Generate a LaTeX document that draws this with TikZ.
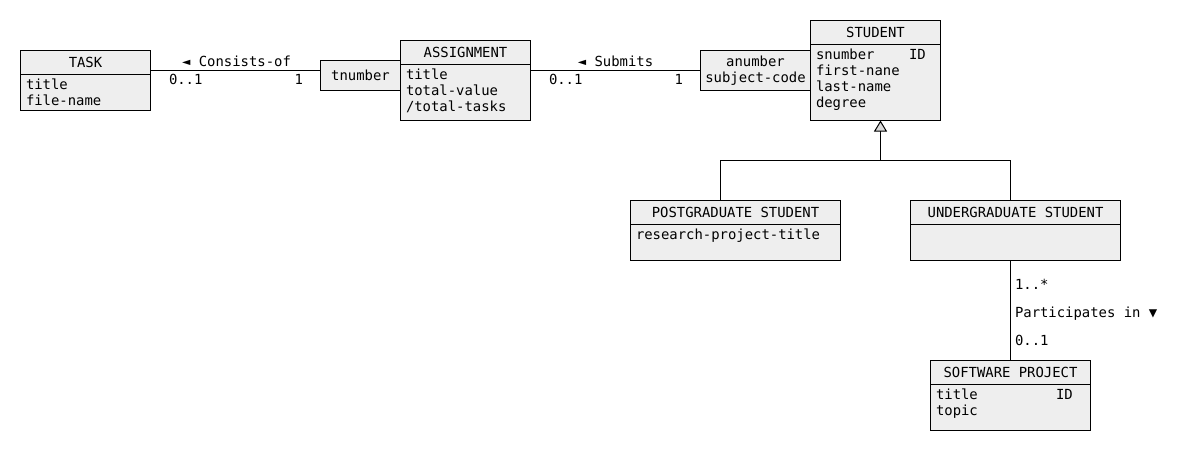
\documentclass[tikz,border=0pt]{standalone}
\usepackage{fontspec}
\setmainfont{DejaVu Sans Mono}
\usetikzlibrary{positioning,arrows.meta}
\definecolor{boxfill}{RGB}{238,238,238}
\definecolor{trifill}{RGB}{218,218,218}
\tikzset{
 classhead/.style={draw,fill=boxfill,anchor=north west,minimum height=24pt,inner sep=0pt,outer sep=0pt},
 classbody/.style={draw,fill=boxfill,inner sep=0pt,outer sep=0pt},
 attr/.style={anchor=north west,align=left,inner xsep=5pt,inner ysep=4pt},
 keybox/.style={draw,fill=boxfill,anchor=north west,align=center,inner sep=0pt,outer sep=0pt},
 mult/.style={inner sep=0pt},
 isa/.style={-{Triangle[width=13pt,length=11pt,fill=trifill]}},
}

\begin{document}
\begin{tikzpicture}[x=1pt,y=-1pt,line width=1pt,font=\fontsize{13.9pt}{16pt}\selectfont]
 \useasboundingbox (-0.5,-0.5) rectangle (1189.5,449.5);
 \node[classhead,minimum width=130pt] (task) at (20,50) {TASK};
 \node[classbody,minimum width=130pt,minimum height=36pt,below=0pt of task] (task-box) {};
 \node[attr] (task-attr) at (task-box.north west) {title\\file-name};
 \node[keybox,minimum width=80pt,minimum height=30pt] (tnum) at (320,60) {tnumber};
 \node[classhead,minimum width=130pt] (assign) at (400,40) {ASSIGNMENT};
 \node[classbody,minimum width=130pt,minimum height=56pt,below=0pt of assign] (assign-box) {};
 \node[attr] (assign-attr) at (assign-box.north west) {title\\total-value\\/total-tasks};
 \node[keybox,minimum width=110pt,minimum height=40pt] (anum) at (700,50) {anumber\\subject-code};
 \node[classhead,minimum width=130pt] (student) at (810,20) {STUDENT};
 \node[classbody,minimum width=130pt,minimum height=76pt,below=0pt of student] (student-box) {};
 \node[attr] (student-attr) at (student-box.north west)
  {\makebox[93pt][l]{snumber}ID\\first-nane\\last-name\\degree};
 \node[classhead,minimum width=210pt] (pg) at (630,200) {POSTGRADUATE STUDENT};
 \node[classbody,minimum width=210pt,minimum height=36pt,below=0pt of pg] (pg-box) {};
 \node[attr] (pg-attr) at (pg-box.north west) {research-project-title};
 \node[classhead,minimum width=210pt] (ug) at (910,200) {UNDERGRADUATE STUDENT};
 \node[classbody,minimum width=210pt,minimum height=36pt,below=0pt of ug] (ug-box) {};
 \node[classhead,minimum width=160pt] (sp) at (930,360) {SOFTWARE PROJECT};
 \node[classbody,minimum width=160pt,minimum height=46pt,below=0pt of sp] (sp-box) {};
 \node[attr] (sp-attr) at (sp-box.north west) {\makebox[120pt][l]{title}ID\\topic};

 \draw ([yshift=5pt]tnum.west) -- ([yshift=5pt]tnum.west -| task.east);
 \node[mult,anchor=base] (cons-lbl) at (236,66) {◄ Consists-of};
 \node[mult,anchor=base west] (cons-m1) at (168,84) {0..1};
 \node[mult,anchor=base east] (cons-m2) at (303,84) {1};
 \draw (anum.west) -- (anum.west -| assign.east);
 \node[mult,anchor=base] (subm-lbl) at (615,66) {◄ Submits};
 \node[mult,anchor=base west] (subm-m1) at (548,84) {0..1};
 \node[mult,anchor=base east] (subm-m2) at (683,84) {1};

 \coordinate (gen) at (880,160);
 \draw ([xshift=90pt]pg.north west) |- (gen) -| ([xshift=100pt]ug.north west);
 \draw[isa] (gen) -- (gen |- student-box.south);

 \draw (ug-box.south -| sp.north) -- (sp.north);
 \node[mult,anchor=base west] (part-m1) at (1014,289) {1..*};
 \node[mult,anchor=base west] (part-lbl) at (1014,317) {Participates in ▼};
 \node[mult,anchor=base west] (part-m2) at (1014,345) {0..1};
\end{tikzpicture}
\end{document}
